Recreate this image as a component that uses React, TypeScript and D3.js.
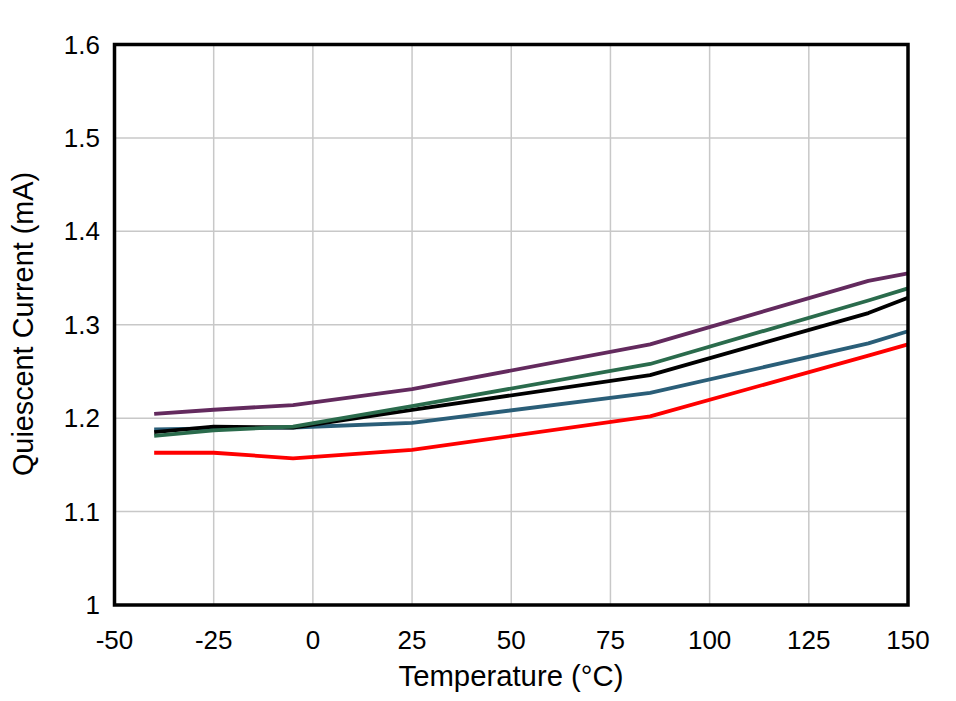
import React from "react";
import * as d3 from "d3";

const temps = [-40, -25, -5, 25, 85, 140, 150];
const purple = [1.2045, 1.209, 1.214, 1.231, 1.279, 1.347, 1.355];
const green = [1.181, 1.187, 1.191, 1.213, 1.258, 1.326, 1.339];
const black = [1.185, 1.191, 1.19, 1.209, 1.246, 1.3125, 1.329];
const blue = [1.188, 1.189, 1.19, 1.195, 1.227, 1.28, 1.293];
const red = [1.163, 1.163, 1.157, 1.166, 1.202, 1.267, 1.279];

const xTicks = [-50, -25, 0, 25, 50, 75, 100, 125, 150];
const yTicks = [1, 1.1, 1.2, 1.3, 1.4, 1.5, 1.6];
const yTickLabels = ["1", "1.1", "1.2", "1.3", "1.4", "1.5", "1.6"];

const seriesList = [
  { name: "red", values: red, color: "#FF0000" },
  { name: "blue", values: blue, color: "#2A5E78" },
  { name: "black", values: black, color: "#000000" },
  { name: "green", values: green, color: "#2A6B4C" },
  { name: "purple", values: purple, color: "#632A5E" },
];

export default function App() {
  const W = 956, H = 701;
  const x = d3.scaleLinear().domain([-50, 150]).range([114.5, 908]);
  const y = d3.scaleLinear().domain([1, 1.6]).range([605, 44.5]);
  const line = d3
    .line<[number, number]>()
    .x((d) => x(d[0]))
    .y((d) => y(d[1]));
  const font = "'Liberation Sans', Arial, sans-serif";
  return (
    <svg
      width={W}
      height={H}
      style={{ position: "absolute", left: 0, top: 0, background: "#fff" }}
      fontFamily={font}
    >
      <rect x={0} y={0} width={W} height={H} fill="#fff" />
      {xTicks.map((t) => (
        <line key={"gx" + t} x1={x(t)} x2={x(t)} y1={y(1)} y2={y(1.6)} stroke="#c8c8c8" strokeWidth={1.5} />
      ))}
      {yTicks.map((t) => (
        <line key={"gy" + t} x1={x(-50)} x2={x(150)} y1={y(t)} y2={y(t)} stroke="#c8c8c8" strokeWidth={1.5} />
      ))}
      {seriesList.map((s) => (
        <path
          key={s.name}
          d={line(temps.map((t, i) => [t, s.values[i]]) as [number, number][]) || ""}
          fill="none"
          stroke={s.color}
          strokeWidth={3.8}
          strokeLinejoin="round"
        />
      ))}
      <rect
        x={x(-50)}
        y={y(1.6)}
        width={x(150) - x(-50)}
        height={y(1) - y(1.6)}
        fill="none"
        stroke="#000"
        strokeWidth={3.5}
      />
      {yTicks.map((t, i) => (
        <text key={"ty" + t} x={100} y={y(t)} dy="0.35em" textAnchor="end" fontSize={26} fill="#000">
          {yTickLabels[i]}
        </text>
      ))}
      {xTicks.map((t) => (
        <text key={"tx" + t} x={x(t)} y={640} dy="0.35em" textAnchor="middle" fontSize={26} fill="#000">
          {t}
        </text>
      ))}
      <text x={511} y={686} textAnchor="middle" fontSize={29.3} fill="#000">
        Temperature (°C)
      </text>
      <text
        transform={`translate(33, 324) rotate(-90)`}
        textAnchor="middle"
        fontSize={28.8}
        fill="#000"
      >
        Quiescent Current (mA)
      </text>
    </svg>
  );
}
